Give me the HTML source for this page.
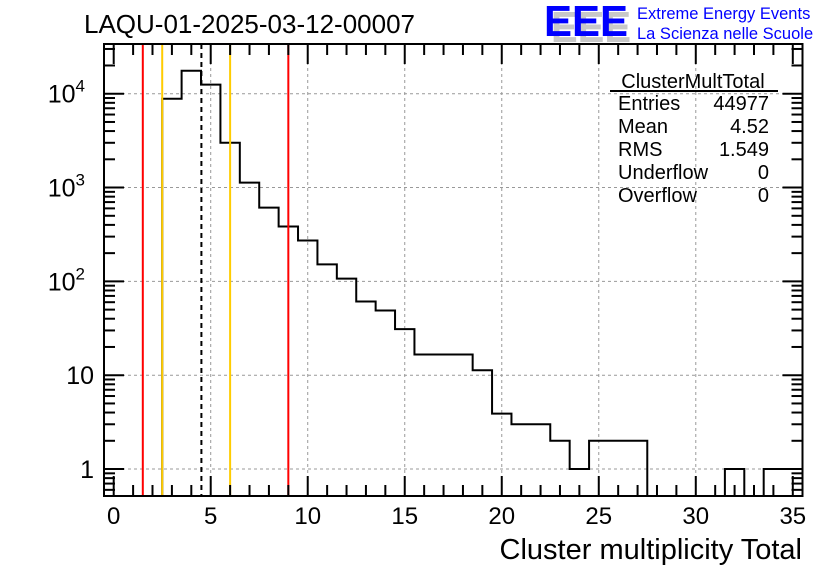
<!DOCTYPE html>
<html><head><meta charset="utf-8"><style>
body{margin:0;background:#fff;}
svg{display:block;font-family:"Liberation Sans",sans-serif;}
</style></head><body>
<svg id="c" width="836" height="572" viewBox="0 0 836 572"></svg>
<script>
const binCenters=[3,4,5,6,7,8,9,10,11,12,13,14,15,16,17,18,19,20,21,22,23,24,25,26,27,28,29,30,31,32,33,34,35];
const binCounts=[8850,17600,12500,3000,1130,612,385,273,152,107,61,49,31,16.6,16.6,16.6,11.3,3.9,3,3,2,1,2,2,2,0,0,0,0,1,0,1,1];
const xTicks=[0,5,10,15,20,25,30,35];
const yTicks=[1,10,100,1000,10000];
const yTickLabels=["1","10","10^2","10^3","10^4"];
const redLines=[1.5,9];
const orangeLines=[2.5,6];
const meanLine=[4.52];
const statsNames=["Entries","Mean","RMS","Underflow","Overflow"];
const statsValues=["44977","4.52","1.549","0","0"];

const L=104,R=802.5,T=44,B=496,xmin=-0.5,xmax=35.5,ymin=Math.log10(0.516),ymax=4.53;
const X=v=>L+(v-xmin)/(xmax-xmin)*(R-L);
const Y=v=>B-(Math.log10(v)-ymin)/(ymax-ymin)*(B-T);
const svg=document.getElementById('c');
const NS='http://www.w3.org/2000/svg';
function mk(tag,at,parent){const e=document.createElementNS(NS,tag);for(const k in at)e.setAttribute(k,at[k]);(parent||svg).appendChild(e);return e;}

for(const t of xTicks){if(t<=0||t>=35)continue;
 const g=mk('line',{x1:X(t),x2:X(t),y1:T,y2:B,stroke:'#999','stroke-dasharray':'3,3','stroke-width':1});
 
 }
for(const t of yTicks){
 const g=mk('line',{x1:L,x2:R,y1:Y(t),y2:Y(t),stroke:'#999','stroke-dasharray':'3,3','stroke-width':1});
 
 }

let d='';let started=false;
for(let i=0;i<binCenters.length;i++){
 const x0=Math.max(X(binCenters[i]-0.5),L),x1=Math.min(X(binCenters[i]+0.5),R);
 const c=binCounts[i];
 const y=c>0?Math.min(Y(c),B):B;
 if(!started){d+=`M${x0},${B} L${x0},${y} L${x1},${y}`;started=true;}
 else{d+=` L${x0},${y} L${x1},${y}`;}
}
const hp=mk('path',{d:d,fill:'none',stroke:'#000','stroke-width':2});



for(const v of redLines){const l=mk('line',{x1:X(v),x2:X(v),y1:T,y2:B,stroke:'#ff0000','stroke-width':2});
 
 }
for(const v of orangeLines){const l=mk('line',{x1:X(v),x2:X(v),y1:T,y2:B,stroke:'#ffcc00','stroke-width':2});
 
 }
for(const v of meanLine){const l=mk('line',{x1:X(v),x2:X(v),y1:T,y2:B,stroke:'#000','stroke-width':2,'stroke-dasharray':'5,4'});
 
 }

const fr=mk('rect',{x:L,y:T,width:R-L,height:B-T,fill:'none',stroke:'#000','stroke-width':2});



for(let v=0;v<=35;v++){const len=(v%5===0)?20:11;
 for(const [y0,s] of [[B,-1],[T,1]]){const t=mk('line',{x1:X(v),x2:X(v),y1:y0,y2:y0+s*len,stroke:'#000','stroke-width':2});
 
 }}
for(const v of xTicks){const tx=mk('text',{x:X(v),y:524,'font-size':24,'text-anchor':'middle'});tx.textContent=v;
 
 }
for(let e=-1;e<=4;e++){for(let m=1;m<10;m++){const v=m*Math.pow(10,e);const y=Y(v);if(y<T||y>B)continue;
 const len=m===1?20:11;
 for(const [x0,s] of [[L,1],[R,-1]]){const t=mk('line',{x1:x0,x2:x0+s*len,y1:y,y2:y,stroke:'#000','stroke-width':2});
 
 }}}
yTicks.forEach((v,i)=>{const lab=yTickLabels[i];const tx=mk('text',{x:94,y:Y(v)+9,'font-size':25,'text-anchor':'end'});
 if(lab.includes('^')){const [b,p]=lab.split('^');tx.setAttribute('x',85);tx.textContent=b;
  const sp=mk('tspan',{dy:-11,'font-size':17},tx);sp.textContent=p;}
 else tx.textContent=lab;
 
 });

const st=mk('g',{});


const stt=mk('text',{x:693,y:88,'font-size':20,'text-anchor':'middle'},st);stt.textContent='ClusterMultTotal';
mk('line',{x1:610,x2:778,y1:91,y2:91,stroke:'#000','stroke-width':2},st);
statsNames.forEach((n,i)=>{const y=110+i*23;
 const a=mk('text',{x:618,y:y,'font-size':20},st);a.textContent=n;
 const b=mk('text',{x:769,y:y,'font-size':20,'text-anchor':'end'},st);b.textContent=statsValues[i];});
</script>
<svg style="position:absolute;left:0;top:0" width="836" height="572">
<text x="84" y="33" font-size="26" font-family="Liberation Sans,sans-serif">LAQU-01-2025-03-12-00007</text>
<g font-family="Liberation Sans,sans-serif" font-weight="bold">
<text x="551" y="42" font-size="44" fill="#c8c8c8" textLength="80" lengthAdjust="spacingAndGlyphs">EEE</text>
<text x="544" y="36" font-size="44" fill="#0000ff" textLength="84" lengthAdjust="spacingAndGlyphs">EEE</text>
</g>
<text x="637" y="19" font-size="16.5" fill="#0000ff" font-family="Liberation Sans,sans-serif">Extreme Energy Events</text>
<text x="637" y="39" font-size="16.5" fill="#0000ff" font-family="Liberation Sans,sans-serif">La Scienza nelle Scuole</text>
<text x="802" y="559" font-size="29" text-anchor="end" font-family="Liberation Sans,sans-serif">Cluster multiplicity Total</text>
</svg>
</body></html>
